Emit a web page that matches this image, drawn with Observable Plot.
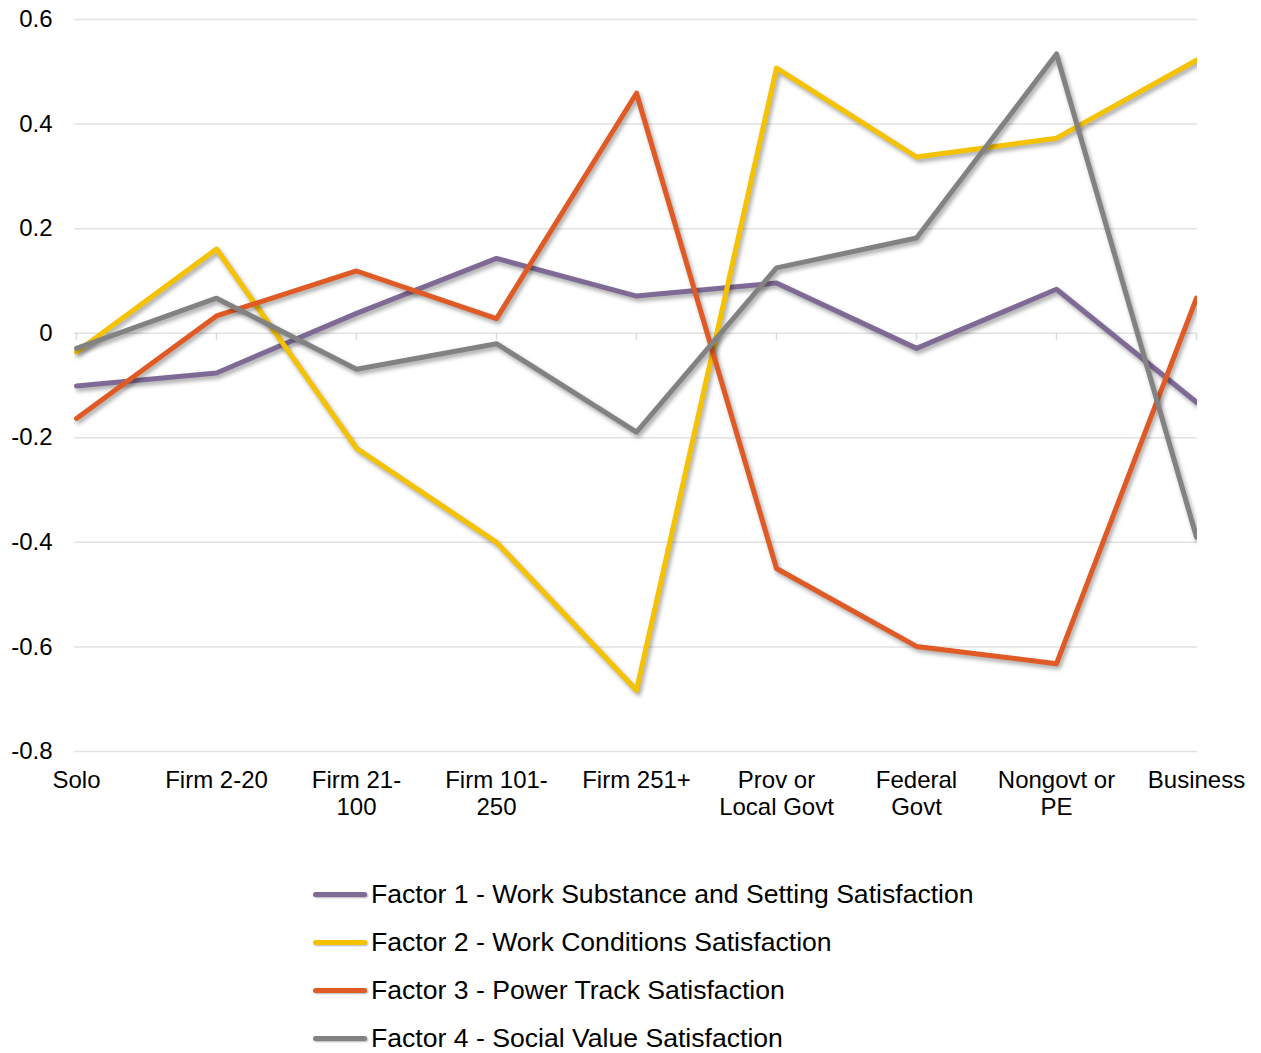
<!DOCTYPE html>
<html>
<head>
<meta charset="utf-8">
<script src="https://cdn.jsdelivr.net/npm/d3@7"></script>
<script src="https://cdn.jsdelivr.net/npm/@observablehq/plot@0.6"></script>
<style>
  html, body { margin: 0; padding: 0; background: #fff; }
  body { width: 1261px; height: 1053px; overflow: hidden; font-family: "Liberation Sans", Arial, sans-serif; }
  #chart svg { display: block; }
  #legend { margin-top: 30px; padding-left: 313px; }
  .row { height: 48px; display: flex; align-items: center; font-size: 26.6px; color: #000; }
  .sw { width: 54px; height: 5px; border-radius: 3px; margin-right: 4px; box-shadow: 1px 1px 2px rgba(0,0,0,0.3); }
</style>
</head>
<body>
<div id="chart"></div>
<div id="legend"></div>
<script>
const categories = ["Solo", "Firm 2-20", "Firm 21-100", "Firm 101-250", "Firm 251+", "Prov or Local Govt", "Federal Govt", "Nongovt or PE", "Business"];
const tickLabels = ["Solo", "Firm 2-20", "Firm 21-\n100", "Firm 101-\n250", "Firm 251+", "Prov or\nLocal Govt", "Federal\nGovt", "Nongovt or\nPE", "Business"];
const seriesNames = [
  "Factor 1 - Work Substance and Setting Satisfaction",
  "Factor 2 - Work Conditions Satisfaction",
  "Factor 3 - Power Track Satisfaction",
  "Factor 4 - Social Value Satisfaction"
];
const factor1 = [-0.101, -0.076, 0.038, 0.143, 0.071, 0.096, -0.029, 0.084, -0.132];
const factor2 = [-0.036, 0.161, -0.220, -0.400, -0.683, 0.507, 0.337, 0.373, 0.522];
const factor3 = [-0.163, 0.033, 0.119, 0.028, 0.459, -0.450, -0.599, -0.632, 0.067];
const factor4 = [-0.029, 0.067, -0.069, -0.020, -0.189, 0.125, 0.182, 0.534, -0.390];
const yTicks = [-0.8, -0.6, -0.4, -0.2, 0, 0.2, 0.4, 0.6];
const colors = ["#7f6a96", "#f5c200", "#df5a24", "#828282"];

const seriesValues = [factor1, factor2, factor3, factor4];
const data = seriesValues.flatMap((vals, s) =>
  vals.map((v, i) => ({series: seriesNames[s], category: categories[i], value: v})));
const labelOf = new Map(categories.map((c, i) => [c, tickLabels[i]]));

const W = 1261, H = 840;
const chart = Plot.plot({
  width: W,
  height: H,
  marginLeft: 74,
  marginRight: 64,
  marginTop: 19,
  marginBottom: H - 751,
  style: {fontFamily: "Liberation Sans, Arial, sans-serif", fontSize: "24px", color: "#000", background: "#fff"},
  x: {type: "point", domain: categories, padding: 0, axis: null},
  y: {domain: [-0.8, 0.6], axis: null},
  color: {domain: seriesNames, range: colors},
  marks: [
    Plot.gridY(yTicks, {stroke: "#e2e2e2", strokeOpacity: 1, strokeWidth: 1.5}),
    Plot.ruleX(categories, {x: d => d, y1: () => 0, y2: () => 0, insetBottom: -7, stroke: "#d9d9d9", strokeWidth: 1.5}),
    Plot.axisY(yTicks, {label: null, tickSize: 0, tickPadding: 22, fontSize: 24, tickFormat: d => d === 0 ? "0" : String(+d.toFixed(1))}),
    Plot.axisX(categories, {label: null, anchor: "bottom", tickSize: 0, tickPadding: 17, fontSize: 24, lineHeight: 1.13, tickFormat: d => labelOf.get(d)}),
    Plot.line(data, {x: "category", y: "value", z: "series", stroke: "series", strokeWidth: 5, strokeLinejoin: "round", clip: true})
  ]
});
document.getElementById("chart").appendChild(chart);
d3.select(chart).selectAll("g[aria-label='line'] path")
  .style("filter", "drop-shadow(2px 3px 2px rgba(0,0,0,0.35))");

const legend = d3.select("#legend");
seriesNames.forEach((name, i) => {
  const row = legend.append("div").attr("class", "row");
  row.append("div").attr("class", "sw").style("background", colors[i]);
  row.append("span").text(name);
});
</script>
</body>
</html>
